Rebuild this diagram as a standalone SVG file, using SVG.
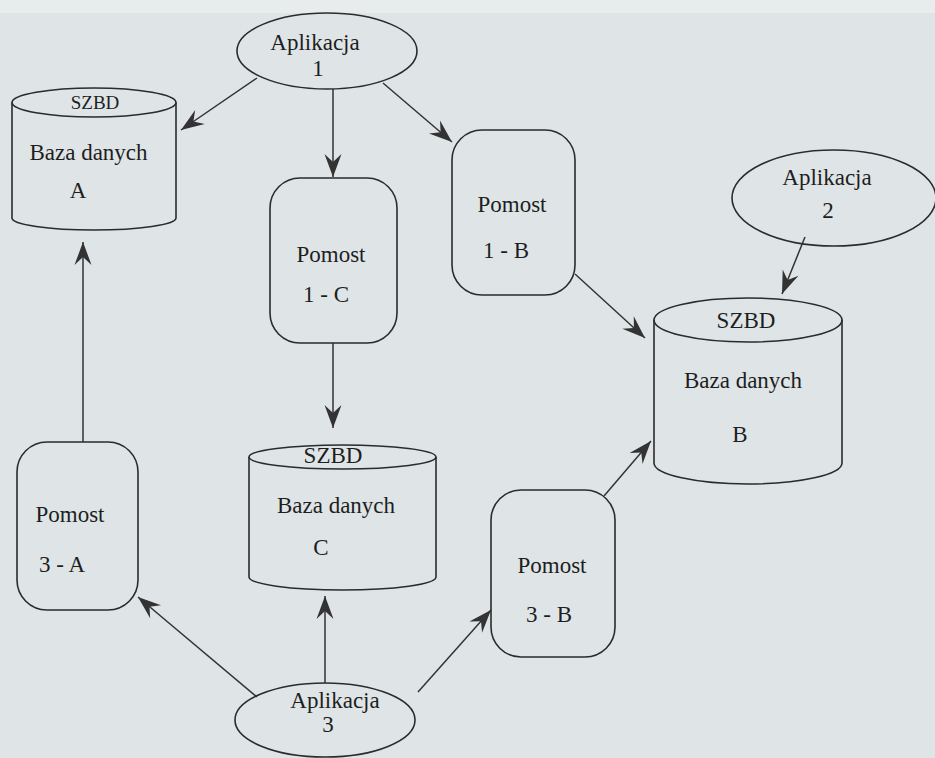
<svg xmlns="http://www.w3.org/2000/svg" width="935" height="758" viewBox="0 0 935 758">
<style>
.bg{fill:#dfe5e7}
.shape{fill:none;stroke:#2b2b2b;stroke-width:1.6}
.t{font-family:'Liberation Serif','Times New Roman','DejaVu Serif',serif;font-size:23px;fill:#1e1e1e;text-anchor:middle}
.s{font-size:19px}
.c{stroke:#333;stroke-width:1.5;fill:none;marker-end:url(#ah)}
</style>
<defs>
<marker id="ah" markerUnits="userSpaceOnUse" markerWidth="26" markerHeight="20" viewBox="-24 -10 26 20" refX="0" refY="0" orient="auto">
<path d="M0,0 L-23,-8.5 L-15,0 L-23,8.5 Z" fill="#333"/>
</marker>
</defs>
<rect class="bg" x="0" y="0" width="935" height="758"/>
<rect x="0" y="0" width="935" height="13" fill="#e8eced"/>

<g id="connectors">
<line class="c" x1="257" y1="78" x2="181" y2="130"/>
<line class="c" x1="333" y1="89" x2="333" y2="177"/>
<line class="c" x1="383" y1="83" x2="452" y2="142"/>
<line class="c" x1="333" y1="343" x2="333" y2="428"/>
<line class="c" x1="83" y1="442" x2="83" y2="242"/>
<line class="c" x1="575" y1="274" x2="645" y2="338"/>
<line class="c" x1="805" y1="237" x2="782" y2="294"/>
<line class="c" x1="604" y1="496" x2="651" y2="441"/>
<line class="c" x1="257" y1="697" x2="138" y2="597"/>
<line class="c" x1="325" y1="683" x2="325" y2="596"/>
<line class="c" x1="418" y1="692" x2="491" y2="610"/>
</g>

<g id="app1">
<ellipse class="shape" cx="327" cy="51" rx="90" ry="38"/>
<text class="t" x="315" y="50">Aplikacja</text>
<text class="t" x="318" y="76">1</text>
</g>

<g id="dbA">
<ellipse class="shape" cx="94" cy="102.5" rx="82" ry="14.5"/>
<path class="shape" d="M12,102.5 V218 A82,12 0 0 0 176,218 V102.5"/>
<text class="t s" x="95" y="109">SZBD</text>
<text class="t" x="88.5" y="160">Baza danych</text>
<text class="t" x="78" y="198">A</text>
</g>

<g id="pomost1C">
<rect class="shape" x="270" y="178" width="127" height="165" rx="30" ry="30"/>
<text class="t" x="331" y="262">Pomost</text>
<text class="t" x="326" y="302">1 - C</text>
</g>

<g id="pomost1B">
<rect class="shape" x="452" y="130" width="123" height="165" rx="30" ry="30"/>
<text class="t" x="512" y="212">Pomost</text>
<text class="t" x="506" y="258">1 - B</text>
</g>

<g id="app2">
<ellipse class="shape" cx="834" cy="198" rx="102" ry="48"/>
<text class="t" x="827" y="185">Aplikacja</text>
<text class="t" x="828" y="218">2</text>
</g>

<g id="dbB">
<ellipse class="shape" cx="748" cy="320" rx="94" ry="22"/>
<path class="shape" d="M654,320 V463 A94,21 0 0 0 842,463 V320"/>
<text class="t" x="746" y="328">SZBD</text>
<text class="t" x="743" y="388">Baza danych</text>
<text class="t" x="740" y="442">B</text>
</g>

<g id="dbC">
<ellipse class="shape" cx="342.5" cy="457" rx="93.5" ry="12"/>
<path class="shape" d="M249,457 V577 A93.5,13 0 0 0 436,577 V457"/>
<text class="t" x="333" y="463">SZBD</text>
<text class="t" x="336" y="513">Baza danych</text>
<text class="t" x="321" y="555">C</text>
</g>

<g id="pomost3A">
<rect class="shape" x="17" y="442" width="121" height="168" rx="30" ry="30"/>
<text class="t" x="70" y="522">Pomost</text>
<text class="t" x="62" y="572">3 - A</text>
</g>

<g id="pomost3B">
<rect class="shape" x="491" y="490" width="124" height="167" rx="30" ry="30"/>
<text class="t" x="552" y="573">Pomost</text>
<text class="t" x="549" y="622">3 - B</text>
</g>

<g id="app3">
<ellipse class="shape" cx="325" cy="720" rx="90" ry="37"/>
<text class="t" x="335" y="708">Aplikacja</text>
<text class="t" x="328" y="732">3</text>
</g>
</svg>
